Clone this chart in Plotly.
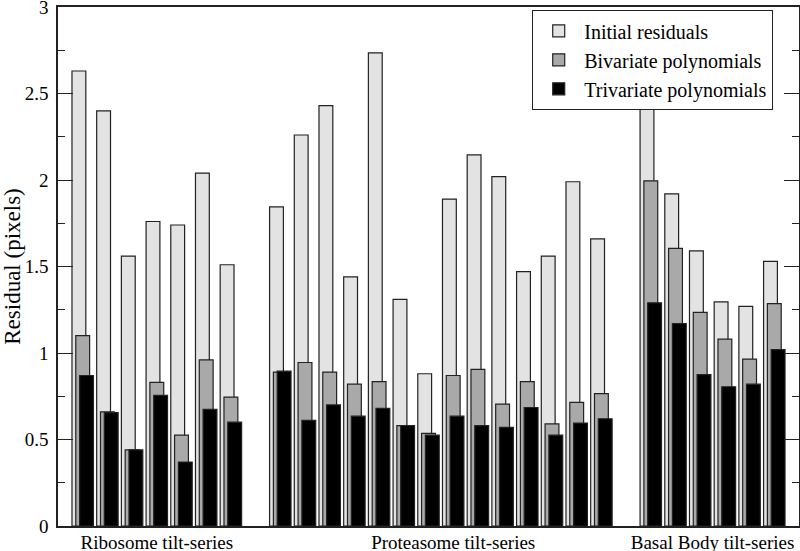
import plotly.graph_objects as go

# ---- data ----
group_names = ["Ribosome tilt-series", "Proteasome tilt-series", "Basal Body tilt-series"]
label_positions = [3, 15, 25.5]

initial_ribosome = [2.63, 2.40, 1.56, 1.76, 1.74, 2.04, 1.51]
bivariate_ribosome = [1.10, 0.66, 0.44, 0.83, 0.525, 0.96, 0.745]
trivariate_ribosome = [0.87, 0.655, 0.44, 0.755, 0.37, 0.675, 0.60]

initial_proteasome = [1.845, 2.26, 2.43, 1.44, 2.735, 1.31, 0.88, 1.89, 2.145, 2.02, 1.47, 1.56, 1.99, 1.66]
bivariate_proteasome = [0.89, 0.945, 0.89, 0.82, 0.835, 0.58, 0.535, 0.87, 0.905, 0.705, 0.835, 0.59, 0.715, 0.765]
trivariate_proteasome = [0.895, 0.61, 0.70, 0.635, 0.68, 0.58, 0.525, 0.635, 0.58, 0.57, 0.685, 0.525, 0.595, 0.62]

initial_basal = [2.46, 1.92, 1.59, 1.295, 1.27, 1.53]
bivariate_basal = [1.995, 1.605, 1.235, 1.08, 0.965, 1.285]
trivariate_basal = [1.29, 1.17, 0.875, 0.805, 0.82, 1.02]

series_names = ["Initial residuals", "Bivariate polynomials", "Trivariate polynomials"]
series_colors = ["#e3e3e3", "#a9a9a9", "#000000"]

groups = [
    (initial_ribosome, bivariate_ribosome, trivariate_ribosome),
    (initial_proteasome, bivariate_proteasome, trivariate_proteasome),
    (initial_basal, bivariate_basal, trivariate_basal),
]

# positions: one slot per tilt-series, one empty slot between groups
positions = []
values = [[], [], []]
start = 0
for g in groups:
    n = len(g[0])
    positions += list(range(start, start + n))
    for k in range(3):
        values[k] += g[k]
    start += n + 1

offsets = [-0.154, 0.0, 0.154]
bar_width = 0.56

fig = go.Figure()
for k in range(3):
    fig.add_trace(go.Bar(
        x=[p + offsets[k] for p in positions],
        y=values[k],
        width=bar_width,
        name=series_names[k],
        marker=dict(color=series_colors[k], line=dict(color="#222222", width=1.2)),
    ))

font_family = "Liberation Serif"

fig.update_layout(
    template="none",
    width=800, height=551,
    barmode="overlay",
    plot_bgcolor="white", paper_bgcolor="white",
    margin=dict(l=58, r=1, t=7, b=25, autoexpand=False),
    font=dict(family=font_family, size=19, color="black"),
    showlegend=True,
    legend=dict(
        x=0.6397, y=0.994, xanchor="left", yanchor="top",
        bordercolor="#222222", borderwidth=1.2, bgcolor="white",
        font=dict(family=font_family, size=20, color="black"),
        itemwidth=41,
        tracegroupgap=0,
    ),
)

fig.update_xaxes(
    automargin=False,
    range=[-1, 29],
    showline=True, linecolor="#222222", linewidth=1.5, mirror=True,
    ticks="", showgrid=False, zeroline=False,
    tickmode="array", tickvals=label_positions, ticktext=group_names,
    ticklabelstandoff=-2,
    tickfont=dict(family=font_family, size=19, color="black"),
)
fig.update_yaxes(
    automargin=False,
    range=[0, 3],
    showline=True, linecolor="#222222", linewidth=1.5, mirror="allticks",
    ticks="inside", ticklen=15, tickwidth=1.2, tickcolor="#222222",
    tickmode="linear", dtick=0.5, tick0=0,
    minor=dict(ticks="inside", dtick=0.25, ticklen=7, tickwidth=1.2, tickcolor="#222222", showgrid=False),
    showgrid=False, zeroline=False,
    ticklabeloverflow="allow",
    ticklabelstandoff=4,
    tickfont=dict(family=font_family, size=19, color="black"),
    title=dict(text="Residual (pixels)", font=dict(family=font_family, size=23, color="black"), standoff=4),
)

# remove the browser's default 8px page margin so the 800x551 figure fills the window
fig.write_html(
    "out.html",
    config={"displayModeBar": False},
    post_script="document.body.style.margin='0px';document.body.style.overflow='hidden';"
                "document.documentElement.style.overflow='hidden';",
)
